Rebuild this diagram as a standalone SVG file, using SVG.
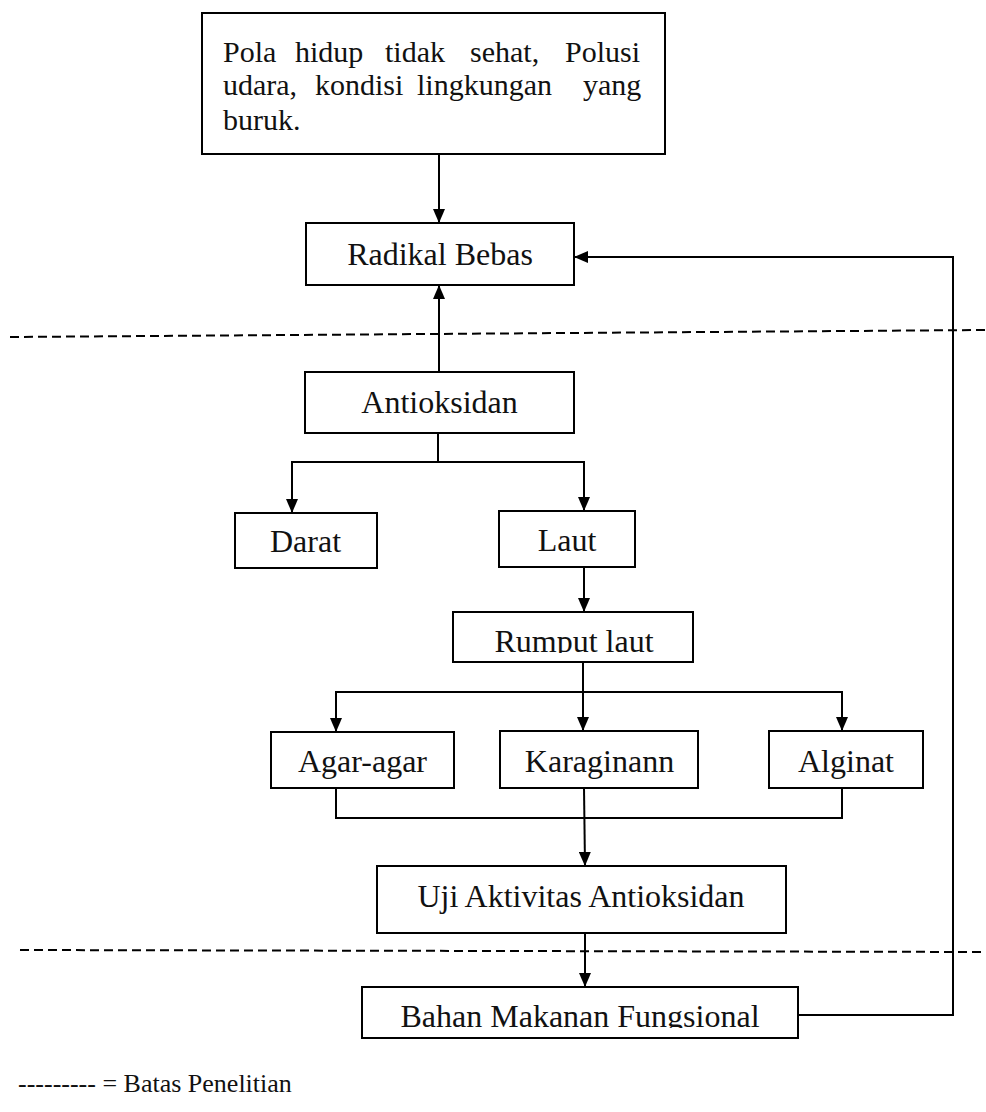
<svg xmlns="http://www.w3.org/2000/svg" width="986" height="1112" viewBox="0 0 986 1112">
<style>
.box{fill:#fff;stroke:#000;stroke-width:2}
.t{font-family:"Liberation Serif","Times New Roman",serif;font-size:32px;fill:#111;text-anchor:middle}
.tp{font-family:"Liberation Serif","Times New Roman",serif;font-size:30px;fill:#111}
.c{fill:none;stroke:#000;stroke-width:2}
.dash{fill:none;stroke:#000;stroke-width:2;stroke-dasharray:9 5}
</style>
<defs>
<marker id="ah" markerUnits="userSpaceOnUse" markerWidth="14" markerHeight="12" refX="14" refY="6" orient="auto">
<path d="M0,0 L14,6 L0,12 z" fill="#000"/>
</marker>
<clipPath id="clipR"><rect x="453" y="612" width="240" height="41"/></clipPath>
<clipPath id="clipB"><rect x="362" y="987" width="436" height="41"/></clipPath>
</defs>
<rect width="986" height="1112" fill="#fff"/>
<g id="connectors">
<line class="c" x1="439" y1="154" x2="439" y2="223" marker-end="url(#ah)"/>
<line class="c" x1="439" y1="372" x2="439" y2="285" marker-end="url(#ah)"/>
<polyline class="c" points="798,1015 953,1015 953,257 574,257" marker-end="url(#ah)"/>
<polyline class="c" points="438,433 438,462"/>
<line class="c" x1="291" y1="462" x2="585" y2="462"/>
<line class="c" x1="292" y1="462" x2="292" y2="513" marker-end="url(#ah)"/>
<line class="c" x1="584" y1="462" x2="584" y2="511" marker-end="url(#ah)"/>
<line class="c" x1="584" y1="567" x2="584" y2="612" marker-end="url(#ah)"/>
<line class="c" x1="583" y1="662" x2="583" y2="692"/>
<line class="c" x1="335" y1="692" x2="843" y2="692"/>
<line class="c" x1="336" y1="692" x2="336" y2="732" marker-end="url(#ah)"/>
<line class="c" x1="583" y1="692" x2="583" y2="731" marker-end="url(#ah)"/>
<line class="c" x1="842" y1="692" x2="842" y2="731" marker-end="url(#ah)"/>
<polyline class="c" points="336,788 336,818 842,818 842,788"/>
<line class="c" x1="584" y1="788" x2="585" y2="866" marker-end="url(#ah)"/>
<line class="c" x1="585" y1="933" x2="585" y2="987" marker-end="url(#ah)"/>
</g>
<g id="boundaries">
<line class="dash" x1="10" y1="337" x2="986" y2="330"/>
<line class="dash" x1="20" y1="950" x2="986" y2="952"/>
</g>
<g id="n-penyebab">
<rect class="box" x="202" y="13" width="463" height="141"/>
<text class="tp" y="62"><tspan x="223">Pola</tspan><tspan x="295">hidup</tspan><tspan x="385">tidak</tspan><tspan x="470">sehat,</tspan><tspan x="565">Polusi</tspan></text>
<text class="tp" y="95"><tspan x="223">udara,</tspan><tspan x="315">kondisi</tspan><tspan x="417">lingkungan</tspan><tspan x="583">yang</tspan></text>
<text class="tp" x="223" y="130">buruk.</text>
</g>
<g id="n-radikal">
<rect class="box" x="306" y="223" width="268" height="62"/>
<text class="t" x="440" y="265">Radikal Bebas</text>
</g>
<g id="n-antioksidan">
<rect class="box" x="305" y="372" width="269" height="61"/>
<text class="t" x="439.5" y="413">Antioksidan</text>
</g>
<g id="n-darat">
<rect class="box" x="235" y="513" width="142" height="55"/>
<text class="t" x="305.5" y="552">Darat</text>
</g>
<g id="n-laut">
<rect class="box" x="499" y="511" width="136" height="56"/>
<text class="t" x="567" y="551">Laut</text>
</g>
<g id="n-rumput">
<rect class="box" x="453" y="612" width="240" height="50"/>
<text class="t" x="574" y="652" clip-path="url(#clipR)">Rumput laut</text>
</g>
<g id="n-agar">
<rect class="box" x="271" y="732" width="183" height="56"/>
<text class="t" x="362.5" y="772">Agar-agar</text>
</g>
<g id="n-karaginann">
<rect class="box" x="500" y="731" width="198" height="57"/>
<text class="t" x="599.5" y="772">Karaginann</text>
</g>
<g id="n-alginat">
<rect class="box" x="769" y="731" width="154" height="57"/>
<text class="t" x="846" y="772">Alginat</text>
</g>
<g id="n-uji">
<rect class="box" x="377" y="866" width="409" height="67"/>
<text class="t" x="581" y="907">Uji Aktivitas Antioksidan</text>
</g>
<g id="n-bahan">
<rect class="box" x="362" y="987" width="436" height="51"/>
<text class="t" x="580" y="1027" clip-path="url(#clipB)">Bahan Makanan Fungsional</text>
</g>
<g id="legend">
<text class="tp" style="font-size:26px" x="18" y="1092">--------- = Batas Penelitian</text>
</g>
</svg>
